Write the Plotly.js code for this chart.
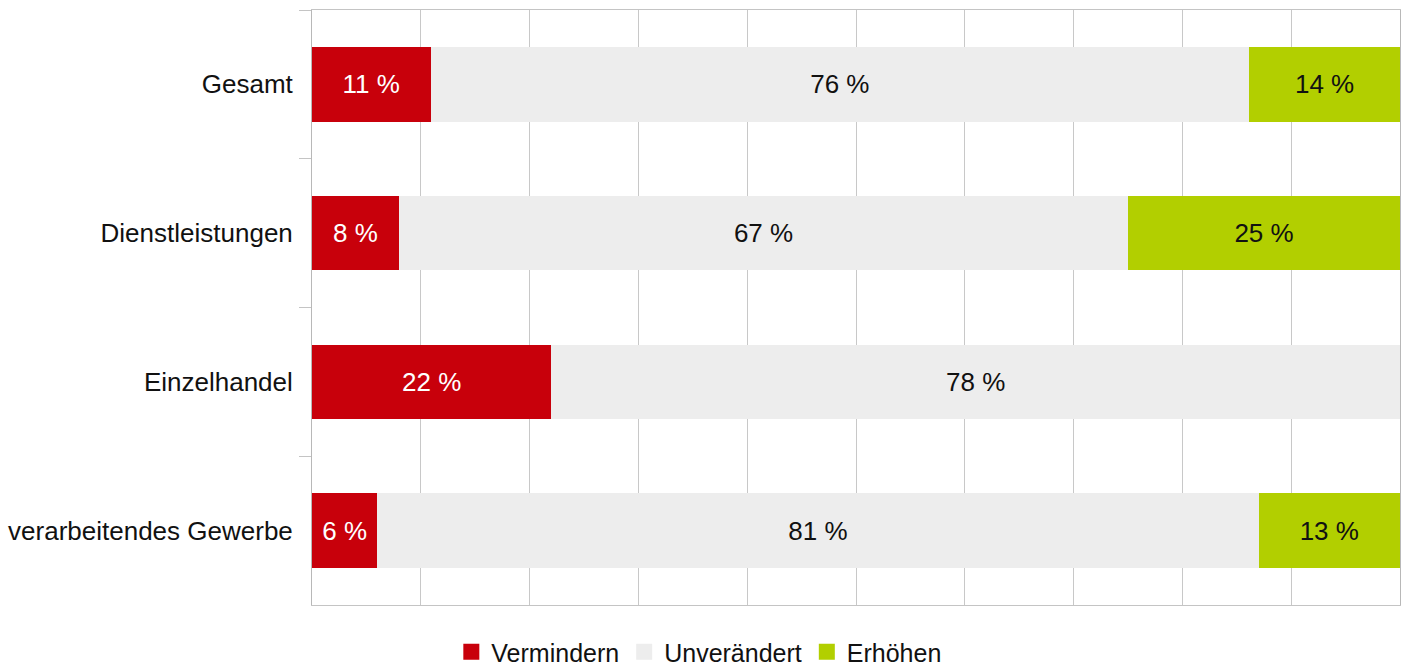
<!DOCTYPE html>
<html>
<head>
<meta charset="utf-8">
<script src="https://cdn.plot.ly/plotly-3.0.1.min.js"></script>
<style>html,body{margin:0;padding:0;background:#fff;}#chart{width:1407px;height:668px;}</style>
</head>
<body>
<div id="chart"></div>
<script>
const categories = ["Gesamt", "Dienstleistungen", "Einzelhandel", "verarbeitendes Gewerbe"];
const seriesNames = ["Vermindern", "Unverändert", "Erhöhen"];
const vermindern = [11, 8, 22, 6];
const unveraendert = [76, 67, 78, 81];
const erhoehen = [14, 25, 0, 13];

const colors = ["#c8000b", "#ededed", "#b2cf00"];
const textColors = ["#ffffff", "#111111", "#111111"];
const FONT = "Liberation Sans, Arial, sans-serif";
const FS = 26;

const allSeries = [vermindern, unveraendert, erhoehen];
const traces = allSeries.map((vals, i) => ({
  type: "bar",
  orientation: "h",
  name: seriesNames[i],
  showlegend: false,
  y: categories,
  x: vals,
  text: vals.map(v => v > 0 ? v + " %" : ""),
  texttemplate: "%{text}",
  textposition: "inside",
  insidetextanchor: "middle",
  constraintext: "none",
  textangle: 0,
  textfont: {family: FONT, size: FS, color: textColors[i]},
  marker: {color: colors[i], line: {width: 0}},
  hoverinfo: "skip"
}));

// legend entries with square swatches
seriesNames.forEach((n, i) => {
  traces.push({
    type: "scatter",
    mode: "markers",
    name: n,
    x: [null],
    y: [null],
    marker: {symbol: "square", size: 16, color: colors[i]},
    showlegend: true,
    hoverinfo: "skip"
  });
});

const layout = {
  width: 1407,
  height: 668,
  margin: {l: 312, r: 7, t: 10, b: 63, autoexpand: false},
  paper_bgcolor: "#ffffff",
  plot_bgcolor: "#ffffff",
  barmode: "stack",
  barnorm: "percent",
  bargap: 0.5,
  font: {family: FONT, size: FS, color: "#111111"},
  showlegend: true,
  legend: {
    orientation: "h",
    x: 0.356, xanchor: "center",
    y: -0.079, yanchor: "middle",
    bgcolor: "rgba(0,0,0,0)",
    font: {family: FONT, size: 25, color: "#111111"},
    traceorder: "normal",
    itemclick: false,
    itemsizing: "trace"
  },
  xaxis: {
    range: [0, 100],
    dtick: 10,
    showticklabels: false,
    showgrid: true,
    gridcolor: "#c8c8c8",
    gridwidth: 1,
    zeroline: false,
    showline: true,
    linecolor: "#c4c4c4",
    mirror: true,
    ticks: ""
  },
  yaxis: {
    type: "category",
    autorange: "reversed",
    showgrid: false,
    zeroline: false,
    showline: true,
    linecolor: "#b8b8b8",
    mirror: true,
    ticks: "outside",
    tickson: "boundaries",
    ticklen: 12,
    tickcolor: "#c4c4c4",
    ticklabelstandoff: 13,
    tickfont: {family: FONT, size: FS, color: "#111111"}
  }
};

Plotly.newPlot("chart", traces, layout, {staticPlot: true, displayModeBar: false});
</script>
</body>
</html>
